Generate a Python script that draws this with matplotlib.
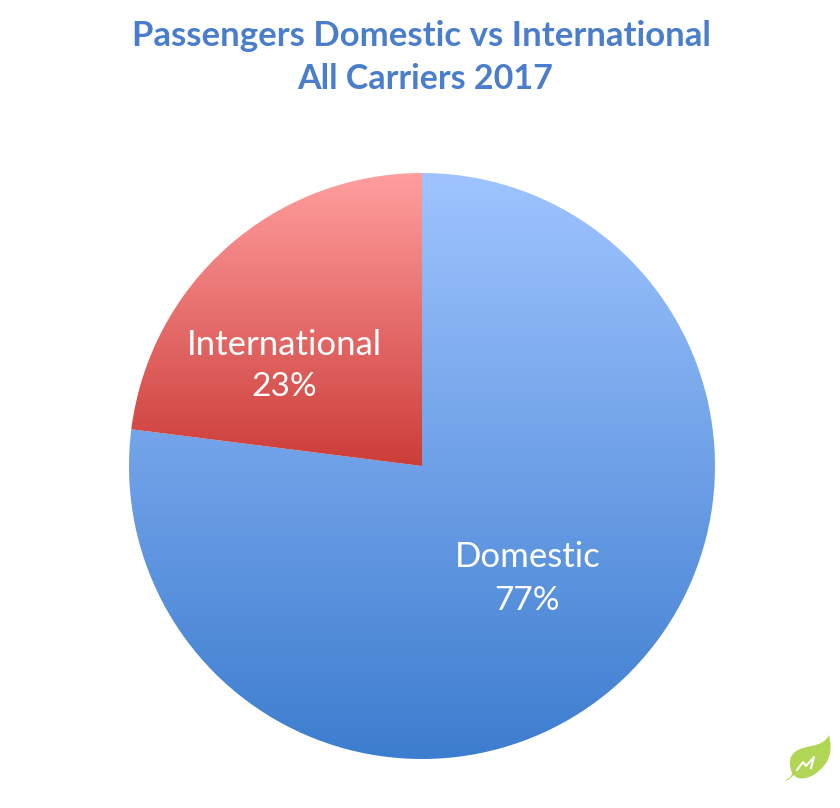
import numpy as np
import matplotlib.pyplot as plt
from matplotlib.patches import PathPatch
from matplotlib.path import Path

labels = ['Domestic', 'International']
values = [77, 23]
title_lines = ['Passengers Domestic vs International', 'All Carriers 2017']
top_colors = ['#9FC4FF', '#FF9E9E']
bottom_colors = ['#3D7DCF', '#CC3D39']

plt.rcParams['font.family'] = ['Lato', 'DejaVu Sans']

fig = plt.figure(figsize=(8.4, 8.08), dpi=100)
ax = fig.add_axes([0, 0, 1, 1])

# %% pie, wedges get filled with a gradient below
cx, cy, r = 422, 808 - 466, 293
wedges, _ = ax.pie(values, startangle=90, counterclock=False, center=(cx, cy),
                   radius=r, frame=True)
ax.set_xlim(0, 840)
ax.set_ylim(0, 808)
ax.set_aspect('equal')
ax.axis('off')

for w, c0, c1 in zip(wedges, top_colors, bottom_colors):
    w.set_facecolor('none')
    w.set_edgecolor('none')
    box = w.get_path().transformed(w.get_patch_transform()).get_extents()
    c0 = np.array(plt.matplotlib.colors.to_rgb(c0))
    c1 = np.array(plt.matplotlib.colors.to_rgb(c1))
    t = np.linspace(0, 1, 256)[:, None, None]
    img = c0[None, None, :] * (1 - t) + c1[None, None, :] * t
    im = ax.imshow(img, extent=(box.x0, box.x1, box.y0, box.y1), origin='upper',
                   aspect='auto', zorder=1)
    im.set_clip_path(w.get_path(), w.get_patch_transform() + ax.transData)
ax.set_xlim(0, 840)
ax.set_ylim(0, 808)

# %% texts
ax.text(421, 808 - 36, title_lines[0], ha='center', va='center', fontsize=25,
        fontweight='bold', color='#4A7DCB')
ax.text(425, 808 - 79, title_lines[1], ha='center', va='center', fontsize=24.5,
        fontweight='bold', color='#4A7DCB')

ax.text(284, 808 - 345, labels[1], ha='center', va='center', fontsize=25, color='white', zorder=3)
ax.text(284, 808 - 387, '%d%%' % values[1], ha='center', va='center', fontsize=24, color='white', zorder=3)
ax.text(528, 808 - 557, labels[0], ha='center', va='center', fontsize=25, color='white', zorder=3)
ax.text(527, 808 - 601, '%d%%' % values[0], ha='center', va='center', fontsize=24, color='white', zorder=3)

# %% leaf logo in the corner
leaf_pts = [(829, 735), (833, 752), (829, 762), (820, 770), (811, 779), (798, 781), (794, 775),
            (790, 779), (787, 781), (784, 781), (789, 779), (792, 776), (792, 773),
            (786, 758), (793, 751), (803, 748), (814, 745), (824, 745), (829, 735)]
leaf_codes = [Path.MOVETO] + [Path.CURVE4] * 18
leaf_y = [(x, 808 - y) for x, y in leaf_pts]
ax.add_patch(PathPatch(Path(leaf_y, leaf_codes), fc='#B1D554', ec='none', zorder=3))
zig = [(797, 770), (803, 762), (806, 766), (814, 757), (811, 768)]
ax.plot([p[0] for p in zig], [808 - p[1] for p in zig], color='white', lw=1.5, zorder=4)

fig.savefig('out.png', dpi=100)
